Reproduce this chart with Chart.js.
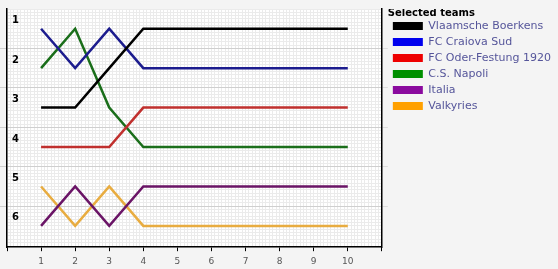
<!DOCTYPE html>
<html>
<head>
<meta charset="utf-8">
<script src="https://cdn.jsdelivr.net/npm/chart.js@4/dist/chart.umd.min.js"></script>
<style>
  html, body { margin: 0; padding: 0; background: #f4f4f4; }
  #wrap { width: 558px; height: 269px; }
</style>
</head>
<body>
<div id="wrap"><canvas id="rankChart" width="558" height="269"></canvas></div>
<script>
// League positions per round for the selected teams

const rounds = [1, 2, 3, 4, 5, 6, 7, 8, 9, 10];
const teams = ['Vlaamsche Boerkens', 'FC Craiova Sud', 'FC Oder-Festung 1920', 'C.S. Napoli', 'Italia', 'Valkyries'];
const positionLabels = ['1', '2', '3', '4', '5', '6'];

const vlaamsche = [3, 3, 2, 1, 1, 1, 1, 1, 1, 1];
const craiova   = [1, 2, 1, 2, 2, 2, 2, 2, 2, 2];
const oder      = [4, 4, 4, 3, 3, 3, 3, 3, 3, 3];
const napoli    = [2, 1, 3, 4, 4, 4, 4, 4, 4, 4];
const italia    = [6, 5, 6, 5, 5, 5, 5, 5, 5, 5];
const valkyries = [5, 6, 5, 6, 6, 6, 6, 6, 6, 6];

const lineColors   = ['#000000', '#1c1c8e', '#c0302e', '#1a6e1a', '#6a1466', '#e8ac40'];
const legendColors = ['#000000', '#0000ee', '#ee0000', '#009000', '#8a0a9e', '#ffa000'];

const series = [vlaamsche, craiova, oder, napoli, italia, valkyries];

const datasets = series.map((vals, i) => ({
    label: teams[i],
    data: vals.map((v, j) => ({ x: rounds[j], y: v })),
    borderColor: lineColors[i],
    backgroundColor: lineColors[i],
    borderWidth: 2.5,
    pointRadius: 0,
    tension: 0,
    fill: false
}));

// white plot area + position numbers in the top of each band
const plotDecor = {
    id: 'plotDecor',
    beforeDraw(chart) {
        const { ctx, chartArea } = chart;
        ctx.save();
        ctx.fillStyle = '#ffffff';
        ctx.fillRect(chartArea.left, chartArea.top, chartArea.right - chartArea.left, chartArea.bottom - chartArea.top);
        ctx.restore();
    },
    afterDatasetsDraw(chart) {
        const { ctx, chartArea, scales } = chart;
        ctx.save();
        ctx.font = 'bold 10px "DejaVu Sans", Verdana, sans-serif';
        ctx.fillStyle = '#000';
        ctx.textAlign = 'center';
        ctx.textBaseline = 'middle';
        positionLabels.forEach((lab, i) => {
            const y = scales.y.getPixelForValue(i + 1) - 8;
            ctx.fillText(lab, chartArea.left + 8.5, y);
        });
        ctx.restore();
    }
};

const bandTicks = (axis) => {
    axis.ticks = [1.5, 2.5, 3.5, 4.5, 5.5].map(v => ({ value: v }));
};

new Chart(document.getElementById('rankChart'), {
    type: 'line',
    data: { datasets },
    plugins: [plotDecor],
    options: {
        responsive: false,
        animation: false,
        layout: { padding: { top: 9, left: 0, right: -3, bottom: -3 } },
        scales: {
            xFine: {
                type: 'linear', position: 'top', min: 0, max: 11,
                ticks: { display: false, stepSize: 0.1 },
                grid: { color: '#ebebeb', drawTicks: false, lineWidth: 1 },
                border: { display: false }
            },
            yFine: {
                type: 'linear', position: 'left', reverse: true, min: 0.5, max: 6.54,
                ticks: { display: false, stepSize: 1 / 12 },
                grid: { color: '#ebebeb', drawTicks: false, lineWidth: 1 },
                border: { display: false }
            },
            x: {
                type: 'linear', position: 'bottom', min: 0, max: 11,
                ticks: {
                    stepSize: 1,
                    padding: 5,
                    color: '#555',
                    font: { size: 9, family: '"DejaVu Sans", Verdana, sans-serif' },
                    callback: (v) => rounds.includes(v) ? String(v) : ''
                },
                grid: { drawOnChartArea: false, tickLength: 4, tickColor: '#000' },
                border: { color: '#000', width: 1.5 }
            },
            y: {
                type: 'linear', position: 'left', reverse: true, min: 0.5, max: 6.54,
                afterBuildTicks: bandTicks,
                ticks: { display: false },
                grid: { color: '#cfcfcf', tickLength: 7, tickColor: '#cfcfcf' },
                border: { color: '#000', width: 1.5 }
            },
            yRight: {
                type: 'linear', position: 'right', reverse: true, min: 0.5, max: 6.54,
                afterBuildTicks: bandTicks,
                ticks: { display: false },
                grid: { drawOnChartArea: false, tickLength: 6, tickColor: '#dcdcdc' },
                border: { color: '#000', width: 1.5 }
            }
        },
        plugins: {
            tooltip: { enabled: false },
            legend: {
                position: 'right',
                align: 'start',
                maxWidth: 220,
                title: {
                    display: true,
                    text: 'Selected teams',
                    position: 'start',
                    color: '#000',
                    font: { size: 10, weight: 'bold', family: '"DejaVu Sans", Verdana, sans-serif' },
                    padding: { top: -1, bottom: -4.5 }
                },
                labels: {
                    boxWidth: 30,
                    boxHeight: 8,
                    padding: 5,
                    color: '#55559a',
                    font: { size: 11, family: '"DejaVu Sans", Verdana, sans-serif' },
                    generateLabels: () => teams.map((t, i) => ({
                        text: t,
                        fillStyle: legendColors[i],
                        strokeStyle: legendColors[i],
                        lineWidth: 0,
                        hidden: false,
                        datasetIndex: i,
                        fontColor: '#55559a'
                    }))
                }
            }
        }
    }
});
</script>
</body>
</html>
